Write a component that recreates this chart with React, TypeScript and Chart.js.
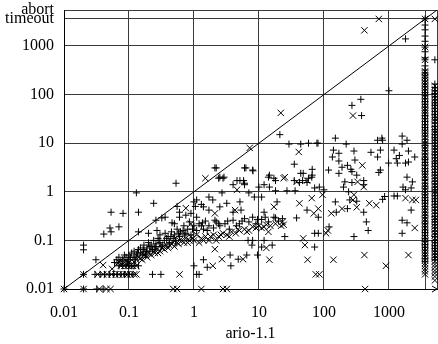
import React, { useEffect, useRef } from "react";
import { Chart, registerables } from "chart.js";

Chart.register(...registerables);

const AXIS_MIN = 0.01;
const AXIS_MAX = 5500;
const TIMEOUT = 3600;
const ABORT_X = 5100;

const TICK_VALUES = [0.01, 0.1, 1, 10, 100, 1000, TIMEOUT, AXIS_MAX];
const X_TICK_LABELS = ["0.01", "0.1", "1", "10", "100", "1000", "", ""];
const Y_TICK_LABELS = ["0.01", "0.1", "1", "10", "100", "1000", "timeout", "abort"];
const X_TITLE = "ario-1.1";

// "+" series: [x, y]
const PLUS_POINTS: number[][] = [
  [0.01, 0.01], [0.02, 0.01], [0.032, 0.01], [0.04, 0.01],
  [0.02, 0.02], [0.03, 0.02], [0.036, 0.02], [0.042, 0.02], [0.05, 0.02], [0.058, 0.02], [0.066, 0.02],
  [0.075, 0.02], [0.085, 0.02], [0.1, 0.02], [0.115, 0.02], [0.23, 0.02], [0.31, 0.02], [1.1, 0.02],
  [0.07, 0.03], [0.08, 0.03], [0.09, 0.03], [0.1, 0.03], [0.11, 0.03], [0.12, 0.03], [0.14, 0.03],
  [0.02, 0.08], [0.02, 0.064], [0.031, 0.04], [0.041, 0.135], [0.051, 0.18], [0.053, 0.15], [0.07, 0.19],
  [0.053, 0.38], [0.081, 0.36], [0.14, 0.38], [0.13, 0.95], [0.24, 0.58], [0.53, 1.5], [0.6, 0.38], [0.9, 0.36],
  [0.26, 0.26], [0.32, 0.29], [0.46, 0.23], [0.14, 0.15], [0.2, 0.14], [0.27, 0.16],
  [0.36, 0.3], [0.5, 0.22], [0.55, 0.5], [0.6, 0.3], [0.75, 0.33], [1.0, 0.62], [1.05, 0.5], [1.3, 0.55],
  [21, 15], [29, 9.6], [44, 9.6], [58, 10], [78, 10], [35, 3.7], [48, 2.4], [66, 2.9], [65, 2.0], [14, 2.0],
  [18, 1.7], [35, 1.7], [47, 1.7], [58, 1.9], [6.3, 3.1], [8.1, 2.7], [2.2, 3.1], [2.4, 1.9], [2.8, 1.9],
  [4.6, 1.7], [5.8, 1.7],
  [1800, 1400], [1000, 120], [370, 80], [270, 60], [380, 37],
  [2.1, 3.1], [2.5, 2.0], [2.9, 2.0], [6, 3.1], [8, 2.8], [5.1, 1.7], [6, 1.5], [6, 1.4], [4, 1.4], [10, 1.25],
  [12, 1.4], [14.5, 1.25], [11, 0.78], [14.5, 2.2], [17, 1.9], [44, 2.4], [66, 2.2], [42, 1.55], [55, 1.55],
  [18, 1.05], [27, 1.05], [36, 1.05], [72, 1.2],
  [1.1, 0.68], [1.7, 0.78], [1.95, 0.68], [2.7, 0.95], [3.2, 0.58], [2.5, 0.49], [5.1, 0.62], [5.3, 0.42],
  [4, 0.38], [7, 0.95], [8.5, 0.78], [1.7, 0.42], [1.4, 0.49], [1.1, 0.3], [2.1, 0.26], [1.35, 0.23],
  [12, 0.38], [19, 0.62], [18, 0.29], [38, 0.29], [55, 0.42], [72, 0.073],
  [1.4, 0.04], [1.6, 0.028], [3.6, 0.05], [3.7, 0.03], [4.8, 0.041], [6.5, 0.05], [9.5, 0.05], [1.0, 0.03],
  [1.2, 0.02], [7.8, 0.08], [6.8, 0.1], [8, 0.1], [12, 0.1], [11, 0.073], [16, 0.08], [25, 0.12], [72, 0.14],
  [81, 10], [150, 12.7], [220, 9.6], [140, 7.2], [170, 6.2], [135, 5.2], [170, 4.3], [118, 2.8], [170, 2.4],
  [190, 3.2], [230, 3.5], [260, 2.9], [290, 6.9], [300, 4.5], [270, 2.6], [320, 2.2], [530, 6.5], [670, 11.5],
  [780, 12.7], [800, 11.5], [740, 7.2], [670, 5.2], [740, 2.8], [700, 2.5], [990, 3.9], [1600, 14], [1900, 11.5],
  [1600, 9.6], [1200, 7.2], [1450, 5.6], [1350, 3.9], [1300, 4.8], [2000, 6.9], [2500, 5.2], [1800, 3.9],
  [2000, 4.1], [1900, 2.0], [2300, 1.6], [1650, 1.25], [2200, 1.2], [1800, 1.1], [1350, 0.82], [1200, 0.82],
  [2200, 0.42], [1600, 0.26], [1900, 0.23], [1600, 0.14],
  [210, 1.6], [200, 1.25], [240, 1.0], [270, 1.55], [410, 1.7], [410, 1.4], [320, 0.64], [410, 0.38],
  [450, 0.24], [480, 0.16], [290, 0.12], [150, 0.62], [155, 0.38], [120, 0.19], [82, 0.3], [82, 0.14],
  [230, 0.45], [250, 0.68], [100, 1.1], [85, 1.25], [800, 0.7], [860, 0.8],
  [0.06, 0.035], [0.065, 0.04], [0.07, 0.045], [0.075, 0.038], [0.08, 0.04], [0.085, 0.05], [0.09, 0.045],
  [0.1, 0.04], [0.1, 0.05], [0.11, 0.055], [0.12, 0.045], [0.12, 0.06], [0.13, 0.05], [0.14, 0.065],
  [0.15, 0.055], [0.15, 0.07], [0.17, 0.06], [0.17, 0.08], [0.18, 0.05], [0.19, 0.07], [0.2, 0.09],
  [0.21, 0.06], [0.22, 0.08], [0.24, 0.1], [0.25, 0.07], [0.26, 0.085], [0.28, 0.11], [0.3, 0.09],
  [0.3, 0.13], [0.33, 0.08], [0.35, 0.1], [0.36, 0.14], [0.4, 0.12], [0.42, 0.09], [0.45, 0.15],
  [0.48, 0.11], [0.5, 0.13], [0.55, 0.17], [0.6, 0.12], [0.62, 0.15], [0.7, 0.2], [0.75, 0.14], [0.8, 0.17],
  [0.85, 0.24], [0.9, 0.13], [1.0, 0.2], [1.1, 0.16], [1.2, 0.22], [1.4, 0.17], [1.5, 0.25], [1.7, 0.2],
  [2.0, 0.18], [2.2, 0.24], [2.5, 0.2], [3, 0.22], [3.5, 0.17], [4, 0.26], [5, 0.22], [6, 0.28], [7, 0.24],
  [8, 0.3], [9, 0.22], [11, 0.27], [14, 0.24], [17, 0.3], [20, 0.25], [23, 0.28],
  [0.095, 0.036], [0.105, 0.045], [0.125, 0.04], [0.135, 0.055], [0.16, 0.05], [0.165, 0.065],
  [0.185, 0.06], [0.21, 0.075], [0.23, 0.065], [0.26, 0.075], [0.29, 0.1], [0.31, 0.075],
  [0.38, 0.11], [0.44, 0.12], [0.52, 0.1], [0.58, 0.14], [0.68, 0.16], [0.72, 0.13], [0.95, 0.17],
  [1.3, 0.2], [1.6, 0.16], [2.4, 0.22], [3.3, 0.25], [4.5, 0.2], [5.5, 0.25], [9.5, 0.27], [12.5, 0.3],
];

// "x" series: [x, y]
const CROSS_POINTS: number[][] = [
  [0.01, 0.01], [0.02, 0.01], [0.035, 0.01], [0.045, 0.01], [0.052, 0.01], [0.48, 0.01], [0.55, 0.01],
  [1.3, 0.01], [2.8, 0.01], [3.2, 0.01], [430, 0.01],
  [0.02, 0.02], [0.033, 0.02], [0.04, 0.02], [0.046, 0.02], [0.054, 0.02], [0.062, 0.02], [0.07, 0.02],
  [0.08, 0.02], [0.09, 0.02], [0.095, 0.02], [0.105, 0.02], [0.12, 0.02], [0.13, 0.02], [0.6, 0.02],
  [75, 0.02], [85, 0.02],
  [0.075, 0.03], [0.085, 0.03], [0.095, 0.03], [0.105, 0.03], [0.115, 0.03], [0.13, 0.03], [0.04, 0.031],
  [0.055, 0.026],
  [0.065, 0.032], [0.07, 0.036], [0.08, 0.035], [0.09, 0.038], [0.1, 0.035], [0.11, 0.04], [0.13, 0.04],
  [0.14, 0.045], [0.16, 0.04], [0.17, 0.05], [0.19, 0.045], [0.2, 0.055], [0.22, 0.05], [0.25, 0.055],
  [0.27, 0.065], [0.3, 0.06], [0.32, 0.07], [0.35, 0.065], [0.38, 0.08], [0.4, 0.07], [0.45, 0.085],
  [0.5, 0.075], [0.55, 0.09], [0.6, 0.1], [0.7, 0.09], [0.75, 0.11], [0.85, 0.1], [0.9, 0.12], [1.0, 0.1],
  [1.1, 0.13], [1.3, 0.11], [1.5, 0.12], [1.7, 0.1], [2.0, 0.13], [2.1, 0.066], [2.4, 0.12], [2.8, 0.14],
  [3.2, 0.13], [3.8, 0.15], [4.4, 0.14], [5, 0.16], [6, 0.17], [7, 0.16], [8, 0.19], [9, 0.18], [10, 0.2],
  [12, 0.19], [13, 0.21], [15, 0.2], [18, 0.22], [22, 0.2], [1.95, 0.03], [2.7, 0.041], [5.7, 0.041],
  [13, 0.07], [14.5, 0.04], [56, 0.04], [51, 0.08], [48, 0.11],
  [1.5, 1.9], [4.6, 1.1], [4.3, 0.42], [2.1, 0.36], [14, 0.15], [17, 0.49], [24, 0.21], [23, 0.24],
  [42, 0.58], [65, 0.74], [70, 0.36], [25, 2.0], [38, 1.6], [55, 1.7], [0.75, 0.46], [0.9, 0.22],
  [21.7, 42], [7.2, 8], [41, 6.6], [24, 1.9], [700, 3600], [420, 2100], [280, 37],
  [390, 3.5], [1800, 0.74], [2300, 0.68], [2600, 0.68], [2500, 0.18], [2000, 0.05], [900, 0.03],
  [420, 0.05], [140, 0.04], [330, 1.6], [410, 1.25], [290, 0.87], [280, 0.68], [320, 0.48],
  [500, 0.58], [640, 0.53], [130, 0.36], [115, 0.16], [108, 0.14], [95, 0.87], [82, 0.45], [190, 0.45],
  [0.12, 0.036], [0.15, 0.042], [0.18, 0.05], [0.24, 0.06], [0.28, 0.055], [0.34, 0.075], [0.42, 0.08],
  [0.48, 0.09], [0.58, 0.085], [0.65, 0.1], [0.8, 0.09], [0.95, 0.11], [1.2, 0.09], [1.4, 0.1],
  [1.8, 0.12], [2.2, 0.1], [2.6, 0.13], [3.5, 0.12], [4.8, 0.17], [6.5, 0.15], [11, 0.18],
];

// Points stacked on the timeout column (x = timeout) and abort column
const TIMEOUT_PLUS_Y = [
  3600, 2700, 2150, 1600, 1250, 950, 760, 570, 520, 390,
  320, 280, 250, 220, 190, 165, 145, 125, 110, 95, 82, 72, 63, 55, 48, 42, 37, 32, 28, 24, 21, 18.5, 16,
  14, 12, 10.5, 9, 8, 7, 6, 5.2, 4.6, 4, 3.5, 3, 2.6, 2.3, 2, 1.75, 1.5, 1.3, 1.15, 1, 0.87, 0.76, 0.66,
  0.58, 0.5, 0.44, 0.38, 0.33, 0.29, 0.25, 0.22, 0.19, 0.165, 0.145, 0.125, 0.11, 0.095, 0.082, 0.072,
  0.063, 0.055, 0.048, 0.042, 0.037,
];
const TIMEOUT_CROSS_Y = [
  3600, 950, 520,
  300, 260, 230, 200, 175, 155, 135, 118, 102, 88, 77, 67, 59, 51, 45, 40, 34, 30, 26, 22.5, 19.5, 17,
  15, 13, 11.3, 9.8, 8.5, 7.5, 6.5, 5.6, 4.9, 4.3, 3.8, 3.2, 2.8, 2.45, 2.15, 1.9, 1.6, 1.4, 1.22, 1.07,
  0.93, 0.81, 0.71, 0.62, 0.54, 0.47, 0.41, 0.36, 0.31, 0.27, 0.235, 0.205, 0.18, 0.155, 0.135, 0.118,
  0.1, 0.088, 0.077, 0.067, 0.058, 0.051, 0.045, 0.039, 0.034, 0.03, 0.026, 0.023, 0.02,
];
const ABORT_PLUS_Y = [
  520, 165, 140, 120, 105, 90, 78, 68, 60, 52, 45, 39, 34, 30, 26, 22, 19, 17, 15, 13, 11.5, 10, 8.7,
  7.6, 6.6, 5.8, 5, 4.3, 3.8, 3.3, 2.9, 2.5, 2.2, 1.9, 1.65, 1.45, 1.25, 1.1, 0.95, 0.83, 0.72, 0.63,
  0.55, 0.48, 0.42, 0.36, 0.31, 0.27, 0.24, 0.21, 0.18, 0.155, 0.135, 0.12, 0.1, 0.09, 0.078, 0.068,
  0.06, 0.052, 0.045, 0.04,
];
const ABORT_CROSS_Y = [
  3600, 150, 128, 112, 97, 84, 73, 64, 56, 48, 42, 36, 32, 28, 24, 20.5, 18, 16, 14, 12.2, 10.7, 9.3,
  8.1, 7.1, 6.2, 5.4, 4.7, 4.1, 3.6, 3.1, 2.7, 2.35, 2.05, 1.8, 1.55, 1.35, 1.18, 1.03, 0.9, 0.78, 0.68,
  0.59, 0.52, 0.45, 0.39, 0.34, 0.29, 0.26, 0.225, 0.195, 0.17, 0.145, 0.128, 0.11, 0.096, 0.084, 0.073,
  0.064, 0.056, 0.049, 0.043, 0.037, 0.032, 0.028, 0.024, 0.021, 0.018, 0.015,
];

const FONT = { family: "'Liberation Serif', 'Times New Roman', serif", size: 16 };

const arrowPlugin = {
  id: "axisArrow",
  afterDraw(chart: any) {
    const { ctx, chartArea } = chart;
    ctx.save();
    ctx.strokeStyle = "#000";
    ctx.lineWidth = 1;
    ctx.beginPath();
    ctx.moveTo(chartArea.right - 5, chartArea.bottom - 3);
    ctx.lineTo(chartArea.right, chartArea.bottom);
    ctx.lineTo(chartArea.right - 5, chartArea.bottom + 3);
    ctx.stroke();
    ctx.restore();
  },
};

export default function App() {
  const ref = useRef<HTMLCanvasElement | null>(null);

  useEffect(() => {
    if (!ref.current) return;
    const toXY = (p: number[]) => ({ x: p[0], y: p[1] });
    const plusData = [
      ...PLUS_POINTS.map(toXY),
      ...TIMEOUT_PLUS_Y.map((y) => ({ x: TIMEOUT, y })),
      ...ABORT_PLUS_Y.map((y) => ({ x: ABORT_X, y })),
    ];
    const crossData = [
      ...CROSS_POINTS.map(toXY),
      ...TIMEOUT_CROSS_Y.map((y) => ({ x: TIMEOUT, y })),
      ...ABORT_CROSS_Y.map((y) => ({ x: ABORT_X, y })),
    ];
    const baseScale = {
      type: "logarithmic" as const,
      min: AXIS_MIN,
      max: AXIS_MAX,
      afterBuildTicks: (axis: any) => {
        axis.ticks = TICK_VALUES.map((v) => ({ value: v }));
      },
      grid: { color: "#3a3a3a", lineWidth: 1, drawTicks: false },
      border: { color: "#000", width: 1 },
    };
    const chart = new Chart(ref.current, {
      type: "scatter",
      data: {
        datasets: [
          {
            type: "line",
            data: [
              { x: AXIS_MIN, y: AXIS_MIN },
              { x: AXIS_MAX, y: AXIS_MAX },
            ],
            borderColor: "#000",
            borderWidth: 1,
            pointRadius: 0,
            fill: false,
          } as any,
          {
            data: plusData,
            pointStyle: "cross",
            pointRadius: 3.5,
            borderColor: "#000",
            backgroundColor: "#000",
            pointBorderWidth: 1,
            clip: false,
          } as any,
          {
            data: crossData,
            pointStyle: "crossRot",
            pointRadius: 4.5,
            borderColor: "#000",
            backgroundColor: "#000",
            pointBorderWidth: 1,
            clip: false,
          } as any,
        ],
      },
      options: {
        animation: false,
        responsive: false,
        layout: { autoPadding: false, padding: { left: 5, top: 10, right: 1, bottom: 1 } },
        plugins: { legend: { display: false }, tooltip: { enabled: false } },
        scales: {
          x: {
            ...baseScale,
            afterFit: (axis: any) => {
              axis.height = 54;
              axis.paddingLeft = 0;
              axis.paddingRight = 0;
            },
            ticks: {
              autoSkip: false,
              maxRotation: 0,
              padding: 14,
              color: "#000",
              font: FONT,
              callback: (_v: any, i: number) => X_TICK_LABELS[i],
            },
            title: {
              display: true,
              text: X_TITLE,
              color: "#000",
              font: FONT,
              padding: { top: 5, bottom: 0 },
            },
          },
          y: {
            ...baseScale,
            afterFit: (axis: any) => {
              axis.width = 59;
              axis.paddingTop = 0;
              axis.paddingBottom = 0;
            },
            ticks: {
              autoSkip: false,
              padding: 10,
              color: "#000",
              font: FONT,
              callback: (_v: any, i: number) => Y_TICK_LABELS[i],
            },
          },
        },
      } as any,
      plugins: [arrowPlugin],
    });
    return () => chart.destroy();
  }, []);

  return (
    <div style={{ position: "absolute", left: 0, top: 0, width: 438, height: 344, background: "#fff" }}>
      <canvas ref={ref} width={438} height={344} />
    </div>
  );
}
